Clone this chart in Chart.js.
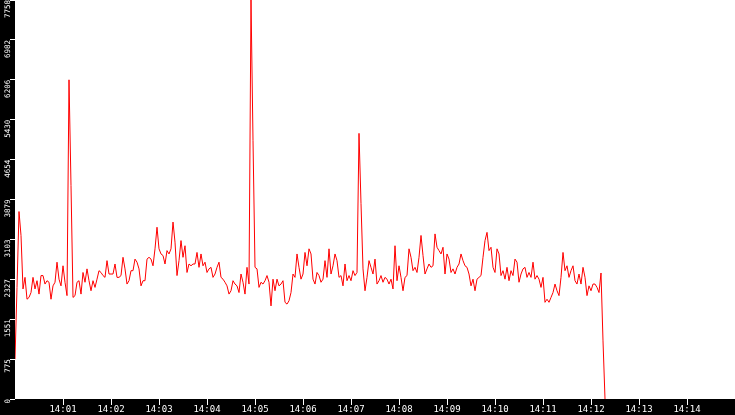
<!DOCTYPE html>
<html>
<head>
<meta charset="utf-8">
<script src="https://cdn.jsdelivr.net/npm/chart.js@4.4.1/dist/chart.umd.min.js"></script>
<style>
  html, body { margin: 0; padding: 0; background: #000; }
  #wrap { width: 735px; height: 415px; }
</style>
</head>
<body>
<div id="wrap"><canvas id="kaavio"></canvas></div>
<script>
// one sample every 2.5 s, starting at 14:00:00
const stepSeconds = 2.5;

const values = [
  775, 2170, 3645, 3180, 2140, 2365, 1940, 1975, 2070, 2365,
  2140, 2300, 2040, 2400, 2400, 2235, 2300, 2270, 1940, 2200,
  2270, 2660, 2330, 2200, 2590, 2270, 2010, 6206, 4150, 1975,
  2010, 2270, 2300, 2040, 2460, 2270, 2530, 2300, 2105, 2300,
  2170, 2330, 2495, 2460, 2400, 2365, 2690, 2430, 2430, 2430,
  2625, 2365, 2365, 2400, 2755, 2530, 2235, 2300, 2495, 2495,

  2720, 2660, 2530, 2200, 2300, 2300, 2720, 2755, 2720, 2590,
  2920, 3340, 2920, 2820, 2790, 2625, 2885, 2820, 2920, 3440,
  3050, 2400, 2690, 3080, 2755, 2980, 2460, 2625, 2590, 2625,
  2625, 2850, 2560, 2820, 2590, 2660, 2460, 2530, 2560, 2365,
  2430, 2560, 2660, 2365, 2330, 2270, 2200, 2040, 2105, 2300,
  2235, 2200, 2070, 2430, 2270, 2040, 2560, 2235, 7758, 5030,

  2560, 2530, 2170, 2270, 2235, 2300, 2400, 2270, 1810, 2330,
  2105, 2330, 2200, 2235, 2300, 1880, 1845, 1910, 2070, 2430,
  2365, 2820, 2560, 2330, 2430, 2850, 2590, 2920, 2820, 2330,
  2235, 2460, 2400, 2270, 2330, 2690, 2365, 2920, 2430, 2590,
  2820, 2690, 2365, 2400, 2200, 2625, 2300, 2400, 2300, 2495,
  2400, 2460, 5165, 3800, 2530, 2105, 2365, 2690, 2560, 2430,

  2720, 2235, 2300, 2400, 2270, 2365, 2330, 2235, 2330, 2140,
  2980, 2300, 2590, 2365, 2105, 2365, 2400, 2920, 2755, 2495,
  2560, 2460, 2755, 3180, 2790, 2430, 2530, 2625, 2560, 2590,
  3210, 2950, 2885, 2820, 2950, 2430, 2820, 2720, 2460, 2530,
  2430, 2560, 2625, 2820, 2690, 2590, 2560, 2430, 2200, 2330,
  2105, 2330, 2365, 2400, 2755, 3080, 3240, 2885, 2950, 2560,

  2460, 2920, 2820, 2400, 2495, 2330, 2560, 2300, 2495, 2400,
  2720, 2660, 2270, 2430, 2530, 2560, 2365, 2460, 2365, 2660,
  2330, 2400, 2330, 2170, 2365, 1880, 1940, 1880, 1975, 2070,
  2235, 2105, 2010, 2365, 2850, 2495, 2590, 2365, 2495, 2590,
  2300, 2235, 2430, 2235, 2560, 2365, 2010, 2200, 2105, 2235,
  2235, 2170, 2070, 2450, 1130, 0
];

const xTickLabels = ['14:01','14:02','14:03','14:04','14:05','14:06','14:07',
                     '14:08','14:09','14:10','14:11','14:12','14:13','14:14'];
const yTickLabels = ['0','775','1551','2327','3103','3879','4654','5430','6206','6982','7758'];

const points = values.map((v, i) => ({ x: i * stepSeconds, y: v }));

// black frame, white plot area
const tausta = {
  id: 'tausta',
  beforeDraw(chart) {
    const { ctx, chartArea: a } = chart;
    ctx.save();
    ctx.fillStyle = '#000';
    ctx.fillRect(0, 0, chart.width, chart.height);
    ctx.fillStyle = '#fff';
    ctx.fillRect(a.left, a.top, a.right - a.left, a.bottom - a.top);
    ctx.restore();
  }
};

const mono = 'DejaVu Sans Mono';

new Chart(document.getElementById('kaavio'), {
  type: 'line',
  data: {
    datasets: [{
      data: points,
      borderColor: '#ff0000',
      borderWidth: 1,
      pointRadius: 0,
      tension: 0,
      fill: false
    }]
  },
  options: {
    responsive: true,
    maintainAspectRatio: false,
    animation: false,
    layout: { padding: 0 },
    plugins: {
      legend: { display: false },
      tooltip: { enabled: false }
    },
    scales: {
      x: {
        type: 'linear',
        min: 0,
        max: 900,
        afterBuildTicks: (s) => { s.ticks = xTickLabels.map((_, i) => ({ value: (i + 1) * 60 })); },
        afterFit: (s) => { s.height = 16; s.paddingLeft = 0; s.paddingRight = 0; },
        border: { display: false },
        grid: { drawOnChartArea: false, color: '#fff', tickLength: 6 },
        ticks: {
          color: '#fff',
          padding: 0,
          autoSkip: false,
          maxRotation: 0,
          font: { family: mono, size: 9, lineHeight: 1 },
          callback: (v, i) => xTickLabels[i]
        }
      },
      y: {
        min: 0,
        max: 7758,
        afterBuildTicks: (s) => { s.ticks = yTickLabels.map(l => ({ value: Number(l) })); },
        afterFit: (s) => { s.width = 15; s.paddingTop = 0; s.paddingBottom = 0; },
        border: { display: false },
        grid: { drawOnChartArea: false, color: '#fff', tickLength: 5 },
        ticks: {
          color: '#fff',
          padding: 2,
          autoSkip: false,
          minRotation: 90,
          maxRotation: 90,
          font: { family: mono, size: 7.5, lineHeight: 1 },
          callback: (v, i) => yTickLabels[i]
        }
      }
    }
  },
  plugins: [tausta]
});
</script>
</body>
</html>
